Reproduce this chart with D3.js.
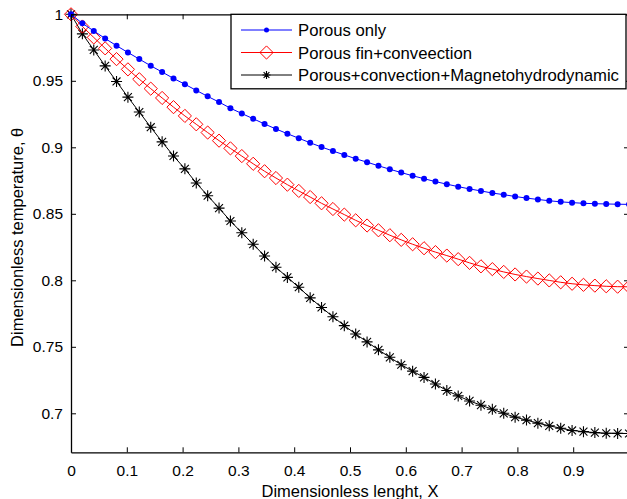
<!DOCTYPE html>
<html>
<head>
<meta charset="utf-8">
<script src="https://cdn.jsdelivr.net/npm/d3@7"></script>
<style>
  body { margin: 0; background: #fff; }
  text { font-family: "Liberation Sans", Arial, sans-serif; fill: #000; }
</style>
</head>
<body>
<svg id="chart" width="627" height="499"></svg>
<script>
// sample positions along the fin (50 samples, 0..1)
const xValues = [0, 0.0204, 0.0408, 0.0612, 0.0816, 0.1020, 0.1224, 0.1429, 0.1633, 0.1837,
  0.2041, 0.2245, 0.2449, 0.2653, 0.2857, 0.3061, 0.3265, 0.3469, 0.3673, 0.3878,
  0.4082, 0.4286, 0.4490, 0.4694, 0.4898, 0.5102, 0.5306, 0.5510, 0.5714, 0.5918,
  0.6122, 0.6327, 0.6531, 0.6735, 0.6939, 0.7143, 0.7347, 0.7551, 0.7755, 0.7959,
  0.8163, 0.8367, 0.8571, 0.8776, 0.8980, 0.9184, 0.9388, 0.9592, 0.9796, 1]

const porousOnly = [1.0, 0.9932, 0.9875, 0.9818, 0.9764, 0.9713, 0.9663, 0.9613, 0.9566, 0.9518,
  0.9474, 0.9428, 0.9383, 0.9340, 0.9294, 0.9254, 0.9215, 0.9175, 0.9138, 0.9102,
  0.9068, 0.9034, 0.9002, 0.8972, 0.8943, 0.8914, 0.8888, 0.8861, 0.8835, 0.8810,
  0.8786, 0.8764, 0.8742, 0.8723, 0.8704, 0.8687, 0.8672, 0.8656, 0.8644, 0.8630,
  0.8618, 0.8608, 0.8598, 0.8590, 0.8584, 0.8579, 0.8576, 0.8574, 0.8572, 0.8571]

const porousConvection = [1.0, 0.9908, 0.9826, 0.9744, 0.9663, 0.9586, 0.9512, 0.9441, 0.9371, 0.9302,
  0.9236, 0.9173, 0.9111, 0.9050, 0.8992, 0.8934, 0.8876, 0.8820, 0.8769, 0.8719,
  0.8672, 0.8626, 0.8579, 0.8536, 0.8494, 0.8451, 0.8412, 0.8376, 0.8339, 0.8304,
  0.8271, 0.8241, 0.8212, 0.8186, 0.8159, 0.8131, 0.8105, 0.8084, 0.8063, 0.8044,
  0.8028, 0.8013, 0.7999, 0.7985, 0.7974, 0.7966, 0.7960, 0.7955, 0.7952, 0.7951]

const porousMHD = [1.0, 0.9853, 0.9732, 0.9612, 0.9495, 0.9377, 0.9265, 0.9151, 0.9041, 0.8935,
  0.8838, 0.8732, 0.8636, 0.8543, 0.8446, 0.8358, 0.8271, 0.8183, 0.8098, 0.8022,
  0.7948, 0.7868, 0.7796, 0.7726, 0.7659, 0.7596, 0.7537, 0.7477, 0.7421, 0.7365,
  0.7317, 0.7270, 0.7220, 0.7171, 0.7131, 0.7093, 0.7061, 0.7030, 0.7000, 0.6971,
  0.6949, 0.6926, 0.6906, 0.6888, 0.6871, 0.6862, 0.6855, 0.6850, 0.6849, 0.6848]

const seriesNames = ['Porous only', 'Porous fin+conveection', 'Porous+convection+Magnetohydrodynamic']
const xTicks = [0, 0.1, 0.2, 0.3, 0.4, 0.5, 0.6, 0.7, 0.8, 0.9]
const yTicks = [0.7, 0.75, 0.8, 0.85, 0.9, 0.95, 1]

const series = [
  { name: seriesNames[2], values: porousMHD, color: '#000000', marker: 'star' },
  { name: seriesNames[1], values: porousConvection, color: '#ff0000', marker: 'diamond' },
  { name: seriesNames[0], values: porousOnly, color: '#0000ff', marker: 'dot' }
]

const svg = d3.select('#chart')
const plotLeft = 71, plotRight = 629, plotTop = 14.3, plotBottom = 452.3

const x = d3.scaleLinear().domain([0, 1]).range([plotLeft, plotRight])
const y = d3.scaleLinear().domain([0.67068, 1]).range([plotBottom, plotTop])

// markers
function drawMarker(g, type, color, cx, cy, s) {
  if (type === 'dot') {
    g.append('circle').attr('cx', cx).attr('cy', cy).attr('r', s)
      .attr('fill', color).attr('stroke', 'none')
  } else if (type === 'diamond') {
    g.append('path')
      .attr('d', `M${cx},${cy - s}L${cx + s},${cy}L${cx},${cy + s}L${cx - s},${cy}Z`)
      .attr('fill', 'none').attr('stroke', color).attr('stroke-width', 1)
  } else {
    const d = s * 0.72
    g.append('path')
      .attr('d', `M${cx - s},${cy}H${cx + s}M${cx},${cy - s}V${cy + s}` +
        `M${cx - d},${cy - d}L${cx + d},${cy + d}M${cx - d},${cy + d}L${cx + d},${cy - d}`)
      .attr('stroke', color).attr('stroke-width', 1.1).attr('fill', 'none')
  }
}
const markerSize = { dot: 3, diamond: 6.6, star: 5.5 }

const line = d3.line().x((d, i) => x(xValues[i])).y(d => y(d))

series.forEach(s => {
  svg.append('path')
    .datum(s.values)
    .attr('d', line)
    .attr('fill', 'none')
    .attr('stroke', s.color)
    .attr('stroke-width', 1)
  const mg = svg.append('g')
  s.values.forEach((v, i) => drawMarker(mg, s.marker, s.color, x(xValues[i]), y(v), markerSize[s.marker]))
})

// axes (ticks inward, like the original)
const fmt = d => String(+d.toFixed(2))
svg.append('g')
  .attr('transform', `translate(0,${plotBottom})`)
  .call(d3.axisBottom(x).tickValues(xTicks).tickFormat(fmt).tickSize(-5).tickSizeOuter(0).tickPadding(13))
svg.append('g')
  .attr('transform', `translate(${plotLeft},0)`)
  .call(d3.axisLeft(y).tickValues(yTicks).tickFormat(fmt).tickSize(-5).tickSizeOuter(0).tickPadding(8))
svg.append('g')
  .attr('transform', `translate(0,${plotTop})`)
  .call(d3.axisTop(x).tickValues(xTicks).tickFormat('').tickSize(-5).tickSizeOuter(0))
svg.append('g')
  .attr('transform', `translate(${plotRight},0)`)
  .call(d3.axisRight(y).tickValues(yTicks).tickFormat('').tickSize(-5).tickSizeOuter(0))

svg.selectAll('.domain').attr('stroke', '#000').attr('stroke-width', 1.3)
svg.selectAll('.tick line').attr('stroke', '#000')
svg.selectAll('.tick text')
  .style('font-family', '"Liberation Sans", Arial, sans-serif')
  .style('font-size', '15.5px')
  .attr('fill', '#000')

// axis titles
svg.append('text')
  .attr('x', (plotLeft + plotRight) / 2)
  .attr('y', 497)
  .attr('text-anchor', 'middle')
  .style('font-size', '16.5px')
  .text('Dimensionless lenght, X')

svg.append('text')
  .attr('transform', `translate(23,${(plotTop + plotBottom) / 2 + 4}) rotate(-90)`)
  .attr('text-anchor', 'middle')
  .style('font-size', '16.5px')
  .text('Dimensionless temperature, θ')

// legend
const legend = svg.append('g')
legend.append('rect')
  .attr('x', 231).attr('y', plotTop).attr('width', 395).attr('height', 74.5)
  .attr('fill', '#fff').attr('stroke', '#000').attr('stroke-width', 1.3)

const legendRows = [series[2], series[1], series[0]]
legendRows.forEach((s, i) => {
  const ly = 30 + i * 22.5
  legend.append('line')
    .attr('x1', 241).attr('x2', 292).attr('y1', ly).attr('y2', ly)
    .attr('stroke', s.color).attr('stroke-width', 1)
  drawMarker(legend, s.marker, s.color, 266.5, ly, s.marker === 'dot' ? 2.5 : (s.marker === 'star' ? 4 : 6.6))
  legend.append('text')
    .attr('x', 298).attr('y', ly + 6)
    .style('font-size', '16.7px')
    .text(s.name)
})
</script>
</body>
</html>
